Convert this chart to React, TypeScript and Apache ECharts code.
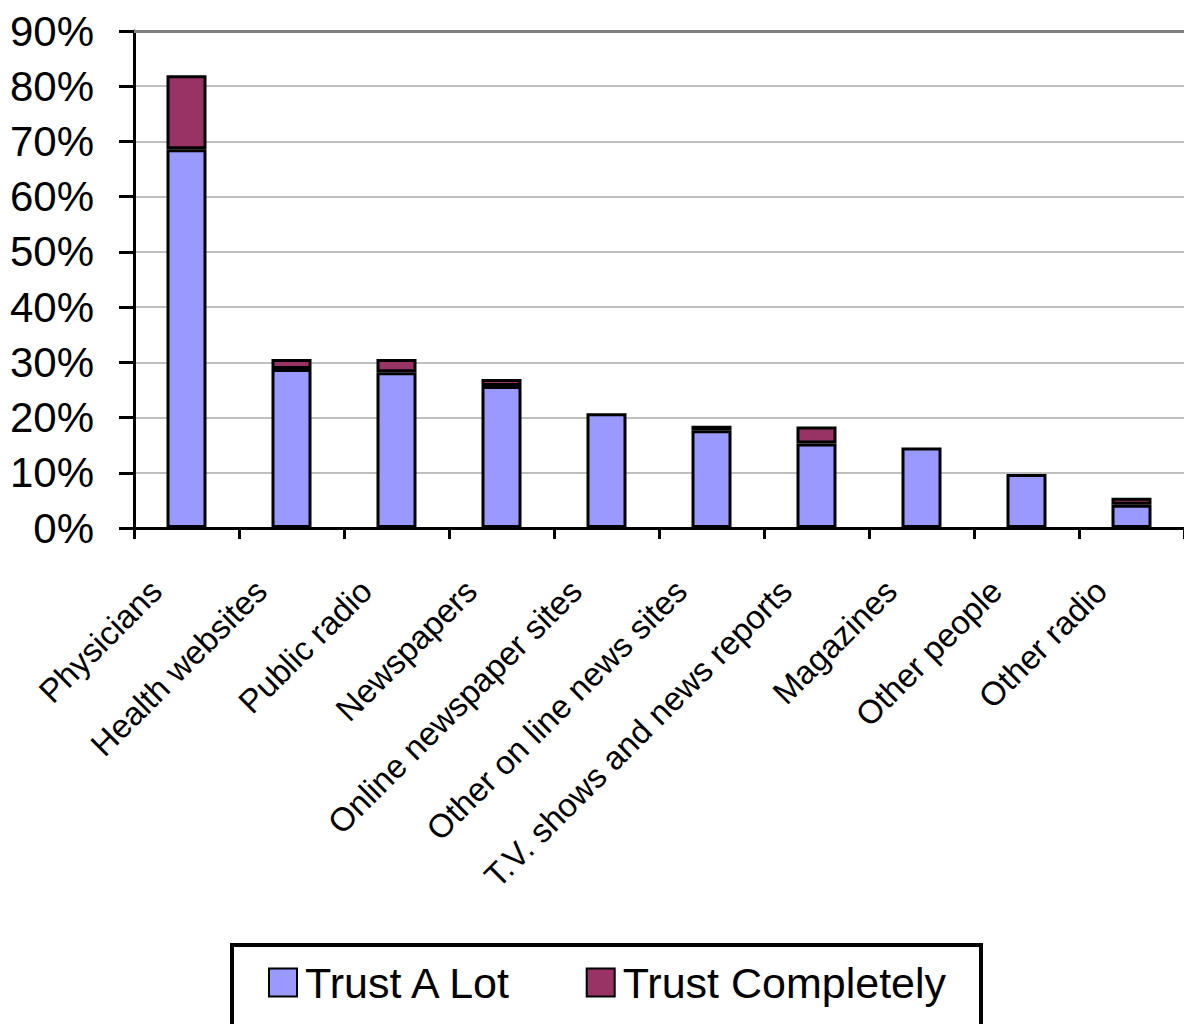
import React, { useEffect, useRef } from "react";
import * as echarts from "echarts";

const categories = [
  "Physicians",
  "Health websites",
  "Public radio",
  "Newspapers",
  "Online newspaper sites",
  "Other on line news sites",
  "T.V. shows and news reports",
  "Magazines",
  "Other people",
  "Other radio",
];
const trustALot = [68.6, 28.8, 28.2, 25.7, 20.8, 17.7, 15.3, 14.6, 9.8, 4.2];
const trustCompletely = [13.4, 1.8, 2.4, 1.3, null, 0.8, 3.1, null, null, 1.3];
const seriesNames = ["Trust A Lot", "Trust Completely"];
const yTicks = { min: 0, max: 90, interval: 10 };

const FONT = "'Liberation Sans', Arial, sans-serif";

export default function App() {
  const ref = useRef<HTMLDivElement>(null);
  useEffect(() => {
    if (!ref.current) return;
    const chart = echarts.init(ref.current, undefined, { renderer: "svg" });
    chart.setOption({
      animation: false,
      backgroundColor: "#ffffff",
      textStyle: { fontFamily: FONT, color: "#000" },
      grid: { left: 134, top: 31, right: 0, bottom: 496, containLabel: false },
      xAxis: {
        type: "category",
        data: categories,
        axisLine: { lineStyle: { color: "#000", width: 3 } },
        axisTick: { show: true, length: 11, lineStyle: { color: "#000", width: 3 } },
        axisLabel: {
          rotate: 45,
          interval: 0,
          margin: 27,
          fontSize: 33,
          fontFamily: FONT,
          color: "#000",
          padding: [0, 43, 0, 0],
        },
      },
      yAxis: {
        type: "value",
        min: yTicks.min,
        max: yTicks.max,
        interval: yTicks.interval,
        axisLine: { show: true, lineStyle: { color: "#000", width: 3 } },
        axisTick: { show: true, length: 15, lineStyle: { color: "#000", width: 3 } },
        axisLabel: {
          formatter: "{value}%",
          margin: 40,
          fontSize: 42,
          fontFamily: FONT,
          color: "#000",
        },
        splitLine: { show: true, lineStyle: { color: "#c0c0c0", width: 2 } },
      },
      legend: {
        left: 268,
        top: 961,
        itemWidth: 28,
        itemHeight: 28,
        itemGap: 72,
        icon: "rect",
        padding: 0,
        textStyle: { fontSize: 43, fontFamily: FONT, color: "#000", padding: [0, 0, 6, 3] },
        data: seriesNames,
      },
      graphic: [
        {
          type: "rect",
          shape: { x: 232, y: 945, width: 749, height: 120 },
          style: { fill: "none", stroke: "#000", lineWidth: 4 },
          silent: true,
        },
      ],
      series: [
        {
          name: seriesNames[0],
          type: "bar",
          stack: "total",
          barWidth: 40,
          data: trustALot,
          itemStyle: { color: "#9999ff", borderColor: "#000", borderWidth: 3 },
          markLine: {
            silent: true,
            symbol: "none",
            label: { show: false },
            lineStyle: { color: "#808080", width: 3, type: "solid" },
            data: [{ yAxis: 90 }],
          },
        },
        {
          name: seriesNames[1],
          type: "bar",
          stack: "total",
          barWidth: 40,
          data: trustCompletely,
          itemStyle: { color: "#993366", borderColor: "#000", borderWidth: 3 },
        },
      ],
    });
    return () => chart.dispose();
  }, []);
  return (
    <div
      ref={ref}
      style={{ position: "absolute", left: 0, top: 0, width: 1184, height: 1024 }}
    />
  );
}
